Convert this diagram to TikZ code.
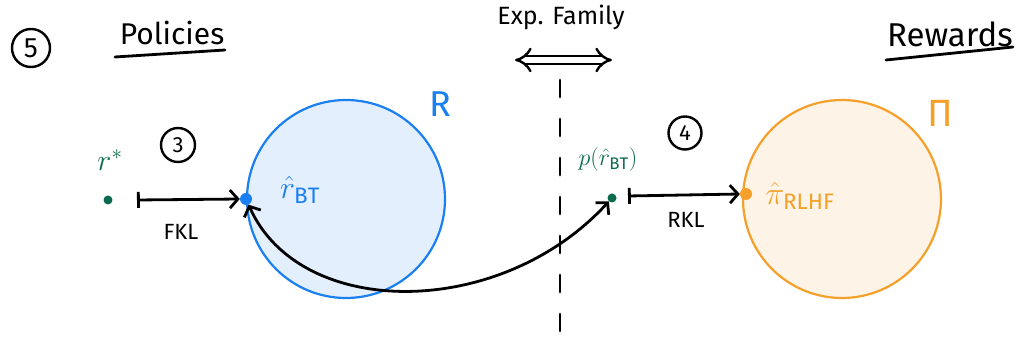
\RequirePackage{fix-cm}
\documentclass[tikz,border=0pt]{standalone}
\usepackage{amsmath}
\usepackage{fontspec}
\setmainfont{Fira Sans}
\usetikzlibrary{arrows.meta}
\definecolor{polblue}{HTML}{1A7FF0}
\definecolor{polfill}{HTML}{E4EFFD}
\definecolor{rwdorange}{HTML}{F5A02A}
\definecolor{rwdfill}{HTML}{FDF3E6}
\definecolor{dotgreen}{HTML}{0B6B4F}
\tikzset{
    ink/.style={line width=2.8pt, line cap=round},
    numbox/.style={circle, draw, line width=2.4pt, inner sep=1pt, font=\fontsize{22}{22}\selectfont},
    setcircle/.style={circle, line width=2.2pt, minimum size=198pt, inner sep=0pt},
    dotmark/.style={circle, inner sep=0pt, minimum size=9pt},
    hand/.style={font=\fontsize{30}{32}\selectfont},
    small/.style={font=\fontsize{22}{24}\selectfont},
    divarrow/.style={ink, {Bar[width=16pt]}-{Straight Barb[length=8pt,width=18pt]}},
}

\begin{document}
\begin{tikzpicture}[x=1pt,y=-1pt]
        \useasboundingbox (0,0) rectangle (1018,344);
        % headings
        \node[numbox, minimum size=38pt, font=\fontsize{28}{28}\selectfont] (five) at (31,48) {5};
        \node[hand] (policies) at (172,33) {Policies};
        \draw[ink] ([xshift=-57pt,yshift=-24pt]policies.center) -- ([xshift=53pt,yshift=-17pt]policies.center);
        \node[hand, font=\fontsize{33}{35}\selectfont] (rewards) at (950,34) {Rewards};
        \draw[ink] ([xshift=-64pt,yshift=-26pt]rewards.center) -- ([xshift=63pt,yshift=-13pt]rewards.center);
        \node[small, font=\fontsize{25}{27}\selectfont] (expfam) at (561,17) {Exp. Family};
        \coordinate (expl) at (515,60);
        \coordinate (expr) at (612,60);
        \draw[line width=2.4pt, double, double distance=6pt, {Implies}-{Implies}] (expl) -- (expr);
        \coordinate (divtop) at (560,80);
        \coordinate (divbot) at (560,344);
        \draw[ink, dash pattern=on 17pt off 22pt] (divtop) -- (divbot);
        % policy set
        \node[setcircle, draw=polblue, fill=polfill] (polset) at (346,199) {};
        \node[text=polblue, font=\fontsize{36}{36}\selectfont] (rlab) at (440,104) {R};
        % reward set
        \node[setcircle, draw=rwdorange, fill=rwdfill] (rwdset) at (842,199) {};
        \node[text=rwdorange, font=\fontsize{38}{38}\selectfont] (pilab) at (940,113) {Π};
        % left side
        \node[dotmark, fill=dotgreen] (rstar) at (108,200) {};
        \node[text=dotgreen, font=\fontsize{30}{30}\selectfont] (rstarlab) at (110,160) {$r^*$};
        \node[numbox, minimum size=34pt] (three) at (178,145) {3};
        \coordinate (fklstart) at (137,200);
        \node[dotmark, fill=polblue, minimum size=12pt] (rbt) at (246,199) {};
        \node[text=polblue, font=\fontsize{32}{32}\selectfont] (rbtlab) at (300,190) {$\hat{r}_{\mathrm{BT}}$};
        \draw[divarrow] (fklstart) -- (rbt.west);
        \node[small] (fkl) at (181,232) {FKL};
        % right side
        \node[dotmark, fill=dotgreen] (pgt) at (612,198) {};
        \node[text=dotgreen, font=\fontsize{24}{24}\selectfont] (pgtlab) at (608,160) {$p(\hat{r}_{\mathrm{BT}})$};
        \node[numbox, minimum size=33pt] (four) at (685,133) {4};
        \coordinate (rklstart) at (628,196);
        \node[dotmark, fill=rwdorange, minimum size=12pt] (pirl) at (746,194) {};
        \node[text=rwdorange, font=\fontsize{32}{32}\selectfont] (pilabel) at (800,196) {$\hat{\pi}_{\mathrm{RLHF}}$};
        \draw[divarrow] (rklstart) -- (pirl.west);
        \node[small] (rkl) at (686,220) {RKL};
        % link between the two
        \draw[ink, {Straight Barb[length=8pt,width=18pt]}-{Straight Barb[length=8pt,width=18pt]}]
        (rbt) .. controls (300,320) and (500,320) .. (pgt);
    \end{tikzpicture}
\end{document}
